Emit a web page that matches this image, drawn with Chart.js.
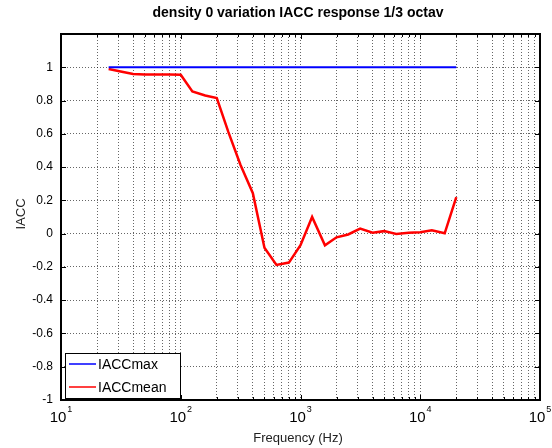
<!DOCTYPE html>
<html>
<head>
<meta charset="utf-8">
<script src="https://cdn.jsdelivr.net/npm/chart.js@4"></script>
<style>
  html, body { margin: 0; padding: 0; background: #fff; }
</style>
</head>
<body>
<canvas id="iaccChart" width="552" height="448"></canvas>
<script>
// 1/3 octave band centre frequencies (Hz)
const bandFreqs = [25, 31.5, 40, 50, 63, 80, 100, 125, 160, 200, 250, 315, 400, 500, 630, 800,
  1000, 1250, 1600, 2000, 2500, 3150, 4000, 5000, 6300, 8000, 10000, 12500, 16000, 20000];
const iaccMax = [1, 1, 1, 1, 1, 1, 1, 1, 1, 1, 1, 1, 1, 1, 1, 1,
  1, 1, 1, 1, 1, 1, 1, 1, 1, 1, 1, 1, 1, 1];
const iaccMean = [0.99, 0.975, 0.96, 0.957, 0.957, 0.956, 0.955, 0.855, 0.83, 0.815, 0.61, 0.414, 0.243, -0.085, -0.188, -0.174,
  -0.07, 0.10, -0.07, -0.022, -0.005, 0.03, 0.005, 0.015, -0.002, 0.005, 0.008, 0.02, 0.002, 0.22];
const decades = [10, 100, 1000, 10000, 100000];
const decadeExps = ['1', '2', '3', '4', '5'];
const yTicks = [-1, -0.8, -0.6, -0.4, -0.2, 0, 0.2, 0.4, 0.6, 0.8, 1, 1.2];

const FONT = "'Liberation Sans', Arial, Helvetica, sans-serif";

// grid at 1..9 x each decade
const xGrid = [];
decades.forEach((d, i) => {
  if (i === decades.length - 1) { xGrid.push(d); return; }
  for (let k = 1; k < 10; k++) xGrid.push(d * k);
});

const matlabFrame = {
  id: 'matlabFrame',
  afterDraw(chart) {
    const { ctx, chartArea: a, scales } = chart;
    const xs = scales.x, ys = scales.y;
    ctx.save();

    // inner tick marks
    ctx.strokeStyle = '#000';
    ctx.lineWidth = 1;
    ctx.beginPath();
    xGrid.forEach(v => {
      const px = Math.round(xs.getPixelForValue(v)) + 0.5;
      const len = decades.includes(v) ? 5 : 3;
      ctx.moveTo(px, a.bottom); ctx.lineTo(px, a.bottom - len);
      ctx.moveTo(px, a.top); ctx.lineTo(px, a.top + len);
    });
    yTicks.forEach(v => {
      const py = Math.round(ys.getPixelForValue(v)) + 0.5;
      ctx.moveTo(a.left, py); ctx.lineTo(a.left + 5, py);
      ctx.moveTo(a.right, py); ctx.lineTo(a.right - 5, py);
    });
    ctx.stroke();

    // axes box
    ctx.lineWidth = 2;
    ctx.strokeRect(a.left, a.top, a.right - a.left, a.bottom - a.top);

    // x tick labels 10^n
    ctx.fillStyle = '#000';
    ctx.textBaseline = 'alphabetic';
    decades.forEach((d, i) => {
      const px = xs.getPixelForValue(d);
      ctx.font = '15px ' + FONT;
      const wBase = ctx.measureText('10').width;
      ctx.font = '9px ' + FONT;
      const wExp = ctx.measureText(decadeExps[i]).width;
      const x0 = px - (wBase + wExp + 1) / 2;
      ctx.font = '15px ' + FONT;
      ctx.textAlign = 'left';
      ctx.fillText('10', x0, 422);
      ctx.font = '9px ' + FONT;
      ctx.fillText(decadeExps[i], x0 + wBase + 1, 412);
    });

    // title and axis labels
    ctx.textAlign = 'center';
    ctx.font = 'bold 14px ' + FONT;
    ctx.fillText('density 0 variation IACC response 1/3 octav', 298, 17);
    ctx.fillStyle = '#222';
    ctx.font = '13px ' + FONT;
    ctx.fillText('Frequency (Hz)', 298, 442);
    ctx.save();
    ctx.translate(25, 214);
    ctx.rotate(-Math.PI / 2);
    ctx.fillText('IACC', 0, 0);
    ctx.restore();

    // legend
    const lx = 65, ly = 353, lw = 115, lh = 45;
    ctx.fillStyle = '#fff';
    ctx.fillRect(lx, ly, lw, lh);
    ctx.strokeStyle = '#000';
    ctx.lineWidth = 1;
    ctx.strokeRect(lx + 0.5, ly + 0.5, lw, lh);
    const entries = [['IACCmax', '#0000ff', 364], ['IACCmean', '#ff0000', 387]];
    ctx.font = '14px ' + FONT;
    ctx.textAlign = 'left';
    ctx.textBaseline = 'middle';
    entries.forEach(([label, color, y]) => {
      ctx.strokeStyle = color;
      ctx.lineWidth = 1.5;
      ctx.beginPath();
      ctx.moveTo(lx + 4, y); ctx.lineTo(lx + 31, y);
      ctx.stroke();
      ctx.fillStyle = '#000';
      ctx.fillText(label, lx + 33, y + 1);
    });
    ctx.restore();
  }
};

new Chart(document.getElementById('iaccChart'), {
  type: 'line',
  data: {
    datasets: [
      {
        label: 'IACCmax',
        data: bandFreqs.map((f, i) => ({ x: f, y: iaccMax[i] })),
        borderColor: '#0000ff',
        borderWidth: 2,
        pointRadius: 0,
        tension: 0
      },
      {
        label: 'IACCmean',
        data: bandFreqs.map((f, i) => ({ x: f, y: iaccMean[i] })),
        borderColor: '#ff0000',
        borderWidth: 2.5,
        pointRadius: 0,
        tension: 0
      }
    ]
  },
  options: {
    responsive: false,
    animation: false,
    devicePixelRatio: 1,
    layout: { padding: { top: 34, right: 12, bottom: 48, left: 0 } },
    plugins: {
      legend: { display: false },
      title: { display: false },
      tooltip: { enabled: false }
    },
    scales: {
      x: {
        type: 'logarithmic',
        min: 10,
        max: 100000,
        afterBuildTicks: (scale) => { scale.ticks = xGrid.map(v => ({ value: v })); },
        afterFit: (scale) => { scale.height = 0; },
        ticks: { display: false },
        grid: { color: 'rgba(0,0,0,0.6)', lineWidth: 1, drawTicks: false },
        border: { display: false, dash: [1, 2] }
      },
      y: {
        min: -1,
        max: 1.2,
        afterBuildTicks: (scale) => { scale.ticks = yTicks.map(v => ({ value: v })); },
        afterFit: (scale) => { scale.width = 61; },
        ticks: {
          color: '#000',
          padding: 8,
          font: { family: FONT, size: 12 },
          callback: (v) => (v > 1.05 ? '' : String(Math.round(v * 10) / 10))
        },
        grid: { color: 'rgba(0,0,0,0.6)', lineWidth: 1, drawTicks: false },
        border: { display: false, dash: [1, 2] }
      }
    }
  },
  plugins: [matlabFrame]
});
</script>
</body>
</html>
